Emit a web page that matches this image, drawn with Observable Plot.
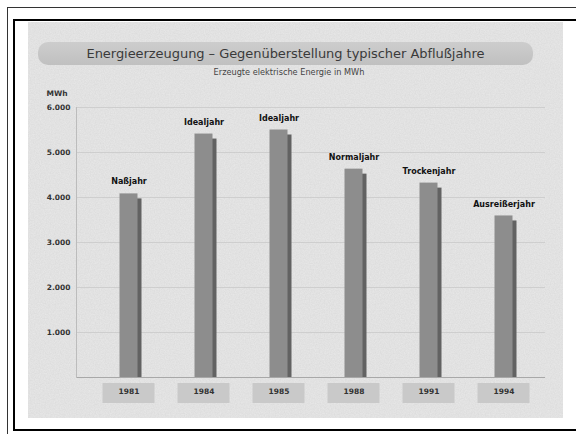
<!DOCTYPE html>
<html>
<head>
<meta charset="utf-8">
<script src="https://cdn.jsdelivr.net/npm/d3@7"></script>
<script src="https://cdn.jsdelivr.net/npm/@observablehq/plot@0.6"></script>
<style>
  html, body { margin: 0; padding: 0; background: #fff; }
  #page { position: relative; width: 576px; height: 434px; overflow: hidden; font-family: "DejaVu Sans", sans-serif; }
  .abs { position: absolute; }
  #outer { left: 7px; top: 7px; width: 600px; height: 500px; border-left: 1.5px solid #333; border-top: 1.5px solid #333; }
  #inner { left: 13px; top: 19px; width: 600px; height: 408px; border: 2.5px solid #000; border-right: none; }
  #panel { left: 28px; top: 22px; width: 535px; height: 396px; background: #e7e7e7; }
  #noise { left: 28px; top: 22px; }
  #banner { left: 38px; top: 42px; width: 495px; height: 23px; border-radius: 10px; background: linear-gradient(#cdcdcd, #c0c0c0); }
  #title { left: 38px; top: 42px; width: 495px; height: 23px; line-height: 23px; text-align: center; font-size: 13px; color: #3a3a3a; letter-spacing: -0.05px; }
  #subtitle { left: 38px; top: 67px; width: 502px; text-align: center; font-size: 8.2px; color: #444; }
  #chart { left: 0; top: 0; }
</style>
</head>
<body>
<div id="page">
  <div class="abs" id="outer"></div>
  <div class="abs" id="inner"></div>
  <div class="abs" id="panel"></div>
  <svg class="abs" id="noise" width="535" height="396">
    <filter id="grain"><feTurbulence type="fractalNoise" baseFrequency="0.8" numOctaves="2" seed="3"/><feColorMatrix type="matrix" values="0 0 0 0 0.5  0 0 0 0 0.5  0 0 0 0 0.5  0 0 0 0.35 -0.05"/></filter>
    <rect width="535" height="396" filter="url(#grain)"/>
  </svg>
  <div class="abs" id="banner"></div>
  <div class="abs" id="title">Energieerzeugung – Gegenüberstellung typischer Abflußjahre</div>
  <div class="abs" id="subtitle">Erzeugte elektrische Energie in MWh</div>
  <div class="abs" id="chart"></div>
</div>
<script>
const years = ["1981", "1984", "1985", "1988", "1991", "1994"];
const yearTypes = ["Naßjahr", "Idealjahr", "Idealjahr", "Normaljahr", "Trockenjahr", "Ausreißerjahr"];
const energy = [4080, 5410, 5500, 4630, 4320, 3590];
const yTicks = [1000, 2000, 3000, 4000, 5000, 6000];
const unitLabel = "MWh";

const data = years.map((year, i) => ({year, label: yearTypes[i], value: energy[i]}));
const de = d3.formatLocale({decimal: ",", thousands: ".", grouping: [3], currency: ["", " €"]});
const fmt = de.format(",");

const chart = Plot.plot({
  width: 576,
  height: 434,
  marginLeft: 76,
  marginRight: 31,
  marginTop: 107,
  marginBottom: 57,
  style: {background: "transparent", overflow: "visible", fontFamily: "DejaVu Sans, sans-serif", color: "#222"},
  x: {domain: years, range: [90.5, 540.5], padding: 0, axis: null},
  y: {domain: [0, 6000], axis: null},
  marks: [
    Plot.gridY(yTicks, {stroke: "#c6c6c6", strokeOpacity: 1, strokeWidth: 0.7}),
    Plot.ruleY([0], {stroke: "#a8a8a8", strokeWidth: 1}),
    Plot.frame({anchor: "left", stroke: "#bcbcbc", strokeWidth: 1}),
    Plot.axisY(yTicks, {tickSize: 0, tickPadding: 6, tickFormat: fmt, fontWeight: "bold", fontSize: 7.5, label: null, fill: "#333"}),
    Plot.text([unitLabel], {frameAnchor: "top-left", dx: -9, dy: -17, textAnchor: "end", fontWeight: "bold", fontSize: 7.5, fill: "#333"}),
    Plot.barY(data, {x: "year", y: "value", fill: "#626262", insetLeft: 32.5, insetRight: 24.5, insetTop: 5}),
    Plot.barY(data, {x: "year", y: "value", fill: "#8d8d8d", insetLeft: 28.5, insetRight: 28.5}),
    Plot.text(data, {x: "year", y: "value", text: "label", dy: -12, fontWeight: "bold", fontSize: 8, fill: "#111"}),
    Plot.barY(data, {x: "year", y1: 0, y2: 0, insetLeft: 11.5, insetRight: 11.5, insetTop: 6, insetBottom: -26, fill: "#c9c9c9"}),
    Plot.text(data, {x: "year", text: "year", frameAnchor: "bottom", dy: 16, fontWeight: "bold", fontSize: 7.5, fill: "#333"})
  ]
});
document.getElementById("chart").appendChild(chart);
</script>
</body>
</html>
